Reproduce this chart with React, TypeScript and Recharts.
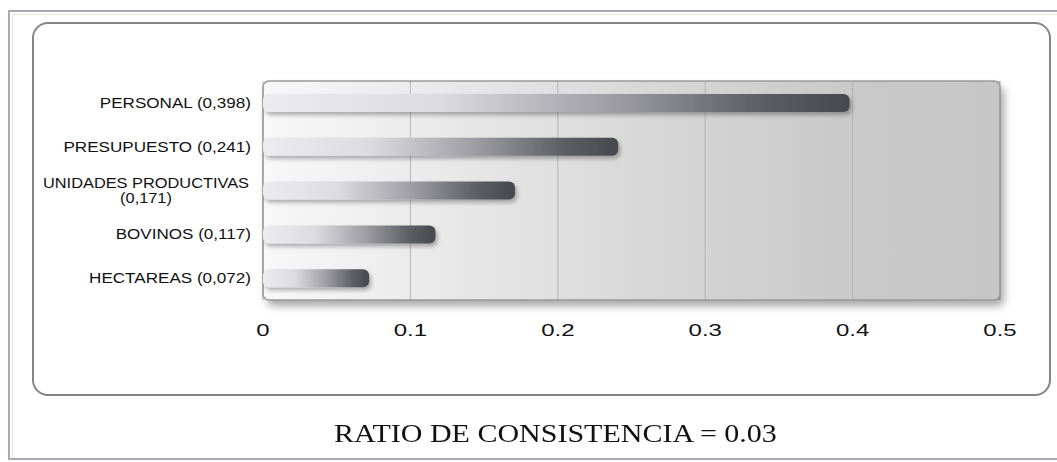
import { BarChart, Bar, XAxis, YAxis, CartesianGrid, ReferenceArea } from "recharts";

// criteria weights (AHP)
const CRITERIA = [
  "PERSONAL (0,398)",
  "PRESUPUESTO (0,241)",
  "UNIDADES PRODUCTIVAS (0,171)",
  "BOVINOS (0,117)",
  "HECTAREAS (0,072)",
];
const WEIGHTS = [0.398, 0.241, 0.171, 0.117, 0.072];
const X_TICKS = [0, 0.1, 0.2, 0.3, 0.4, 0.5];
const TITLE = "RATIO DE CONSISTENCIA = 0.03";

const data = CRITERIA.map((name, i) => ({ name, value: WEIGHTS[i] }));

const SANS = "'Liberation Sans', Arial, sans-serif";

function CategoryTick({ x, y, payload }: any) {
  const label: string = payload.value;
  const cut = label.indexOf(" (");
  // long labels wrap onto two centred lines
  if (label.length > 22 && cut > 0) {
    const cx = x - 117;
    return (
      <g>
        <text transform={`translate(${cx},${y - 3}) scale(1.17,1)`} textAnchor="middle"
          fontFamily={SANS} fontSize={14} fill="#111">{label.slice(0, cut)}</text>
        <text transform={`translate(${cx},${y + 12}) scale(1.17,1)`} textAnchor="middle"
          fontFamily={SANS} fontSize={14} fill="#111">{label.slice(cut + 1)}</text>
      </g>
    );
  }
  return (
    <text transform={`translate(${x - 12},${y + 5}) scale(1.22,1)`} textAnchor="end"
      fontFamily={SANS} fontSize={14} fill="#111">{label}</text>
  );
}

function ValueTick({ x, y, payload }: any) {
  return (
    <text transform={`translate(${x},${y + 36}) scale(1.5,1)`} textAnchor="middle"
      fontFamily={SANS} fontSize={16} fill="#111">{String(payload.value)}</text>
  );
}

function BarShape({ x, y, width, height }: any) {
  if (!width || width <= 0) return null;
  return (
    <rect x={x} y={y} width={width} height={height} rx={6} ry={6}
      fill="url(#barGrad)" filter="url(#barShadow)" />
  );
}

function PlotFrame({ x, y, width, height }: any) {
  return (
    <g>
      <defs>
        <mask id="outsidePlot">
          <rect x={x - 30} y={y - 30} width={width + 60} height={height + 60} fill="#fff" />
          <rect x={x} y={y} width={width} height={height} rx={6} fill="#000" />
        </mask>
      </defs>
      <rect x={x + 4} y={y + 6} width={width} height={height} rx={6}
        fill="#000" fillOpacity={0.35} filter="url(#plotBlur)" mask="url(#outsidePlot)" />
      <rect x={x} y={y} width={width} height={height} rx={6}
        fill="none" stroke="#9a9a9a" strokeWidth={1.5} />
    </g>
  );
}

export default function App() {
  return (
    <div style={{ position: "absolute", left: 0, top: 0, width: 1057, height: 462, overflow: "hidden", background: "#fff" }}>
      <svg width={0} height={0} style={{ position: "absolute" }}>
        <defs>
          <linearGradient id="barGrad" x1="0" y1="0" x2="1" y2="0">
            <stop offset="0%" stopColor="#ececf0" />
            <stop offset="30%" stopColor="#dcdce0" />
            <stop offset="60%" stopColor="#9c9ca2" />
            <stop offset="85%" stopColor="#5c5e64" />
            <stop offset="100%" stopColor="#46494e" />
          </linearGradient>
          <linearGradient id="plotBg" x1="0" y1="0" x2="1" y2="0">
            <stop offset="0%" stopColor="#f8f8f8" />
            <stop offset="55%" stopColor="#d6d6d6" />
            <stop offset="80%" stopColor="#c9c9c9" />
            <stop offset="100%" stopColor="#c6c6c6" />
          </linearGradient>
          <filter id="barShadow" x="-10%" y="-40%" width="130%" height="200%">
            <feDropShadow dx={2} dy={3} stdDeviation={2} floodColor="#000" floodOpacity={0.3} />
          </filter>
          <filter id="plotBlur" x="-10%" y="-20%" width="120%" height="140%">
            <feGaussianBlur stdDeviation={4} />
          </filter>
        </defs>
      </svg>

      {/* page frame */}
      <div style={{ position: "absolute", left: 8, top: 10, width: 1060, height: 450, borderTop: "2px solid #a9a9b4", borderLeft: "2px solid #a9a9b4", borderBottom: "2px solid #a9a9b4", boxSizing: "border-box" }} />
      <div style={{ position: "absolute", left: 12, top: 14, width: 1060, height: 444, borderTop: "1px solid #e6e6e6", borderLeft: "1px solid #e6e6e6", boxSizing: "border-box" }} />
      {/* rounded chart box */}
      <div style={{ position: "absolute", left: 32, top: 22, width: 1019, height: 374, border: "2px solid #858585", borderRadius: 16, boxSizing: "border-box" }} />

      <div style={{ position: "absolute", left: 0, top: 0 }}>
        <BarChart width={1057} height={462} data={data} layout="vertical"
          margin={{ top: 81, right: 57, bottom: 122, left: 0 }} barSize={18}>
          <CartesianGrid horizontal={false} stroke="#b6b6b6" fill="url(#plotBg)" />
          <XAxis type="number" domain={[0, 0.5]} ticks={X_TICKS} allowDataOverflow
            axisLine={false} tickLine={false} tickSize={0} tickMargin={0} height={40}
            tick={<ValueTick />} interval={0} />
          <YAxis type="category" dataKey="name" width={263} axisLine={false} tickLine={false}
            tickSize={0} tickMargin={0} tick={<CategoryTick />} interval={0} />
          <ReferenceArea x1={0} x2={0.5} shape={<PlotFrame />} />
          <Bar dataKey="value" shape={<BarShape />} isAnimationActive={false} />
        </BarChart>
      </div>

      <div style={{ position: "absolute", left: 0, top: 421, width: 1110, textAlign: "center", fontFamily: "'Liberation Serif', 'Times New Roman', serif", fontSize: 25, lineHeight: "25px", color: "#111", whiteSpace: "nowrap" }}>
        <span style={{ display: "inline-block", transform: "scaleX(1.2)" }}>{TITLE}</span>
      </div>
    </div>
  );
}
